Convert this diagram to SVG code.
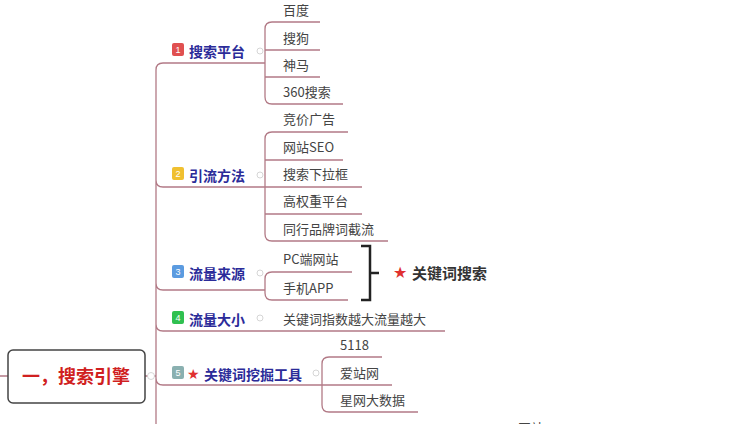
<svg xmlns="http://www.w3.org/2000/svg" width="754" height="424" viewBox="0 0 754 424">
<style>
.ln{stroke:#b27a86;stroke-width:1.3;fill:none}
.lf{font-family:"Noto Sans CJK SC",sans-serif;font-size:13px;fill:#444}
.br{font-family:"Noto Sans CJK SC",sans-serif;font-size:14px;font-weight:bold;fill:#2b2b99}
.bd{font-family:"Liberation Sans",sans-serif;font-size:9px;fill:#fff;text-anchor:middle}
.cc{fill:#fff;stroke:#ccc;stroke-width:0.8}
.st{fill:#e03030}
</style>
<rect width="754" height="424" fill="#fff"/>
<g id="connectors">
<path class="ln" d="M0 376H8M145 376H156M156 424V70Q156 63 163 63H265M156 180Q156 187 163 187H265M156 283Q156 290 163 290H265M156 324Q156 331 163 331H445M156 378Q156 385 163 385H322"/>
<path class="ln" d="M320 22H272Q265 22 265 29V97Q265 104 272 104H343M265 50H320M265 77H320"/>
<path class="ln" d="M348 132H272Q265 132 265 139V234Q265 241 272 241H388M265 160H343M265 187H362M265 214H362"/>
<path class="ln" d="M352 272H272Q265 272 265 279V293Q265 300 272 300H348"/>
<path class="ln" d="M382 357H329Q322 357 322 364V405Q322 412 329 412H418M322 385H392"/>
<path d="M361 246H370V300H361M370 273H379" stroke="#222" stroke-width="2.5" fill="none"/>
</g>
<g id="root">
<rect x="8" y="350" width="137" height="53" rx="5" fill="#fff" stroke="#444" stroke-width="1.5"/>
<text x="76" y="383" text-anchor="middle" font-family="Noto Sans CJK SC,sans-serif" font-size="18" font-weight="bold" fill="#d02020">一，搜索引擎</text>
<circle class="cc" cx="151" cy="376" r="3.5"/>
</g>
<g id="b1"><rect x="172" y="43" width="12" height="13" rx="2" fill="#e05050"/><text class="bd" x="178" y="53">1</text><text class="br" x="189" y="57">搜索平台</text><circle class="cc" cx="260" cy="51" r="3"/></g>
<g id="b2"><rect x="172" y="167" width="12" height="13" rx="2" fill="#f0c030"/><text class="bd" x="178" y="177">2</text><text class="br" x="189" y="181">引流方法</text><circle class="cc" cx="260" cy="175" r="3"/></g>
<g id="b3"><rect x="172" y="265" width="12" height="13" rx="2" fill="#5b9be0"/><text class="bd" x="178" y="275">3</text><text class="br" x="189" y="279">流量来源</text><circle class="cc" cx="260" cy="273" r="3"/></g>
<g id="b4"><rect x="172" y="311" width="12" height="13" rx="2" fill="#30c050"/><text class="bd" x="178" y="321">4</text><text class="br" x="189" y="325">流量大小</text><circle class="cc" cx="260" cy="318" r="3"/></g>
<g id="b5"><rect x="172" y="366" width="12" height="13" rx="2" fill="#8ab0b0"/><text class="bd" x="178" y="376">5</text><text class="st" x="187" y="379" font-family="DejaVu Sans,sans-serif" font-size="14">★</text><text class="br" x="204" y="380">关键词挖掘工具</text><circle class="cc" cx="316" cy="373" r="3"/></g>
<g id="leaves">
<text class="lf" x="283" y="15">百度</text>
<text class="lf" x="283" y="43">搜狗</text>
<text class="lf" x="283" y="70">神马</text>
<text class="lf" x="283" y="97">360搜索</text>
<text class="lf" x="283" y="124">竞价广告</text>
<text class="lf" x="283" y="152">网站SEO</text>
<text class="lf" x="283" y="179">搜索下拉框</text>
<text class="lf" x="283" y="206">高权重平台</text>
<text class="lf" x="283" y="234">同行品牌词截流</text>
<text class="lf" x="283" y="264">PC端网站</text>
<text class="lf" x="283" y="293">手机APP</text>
<text class="lf" x="283" y="324">关键词指数越大流量越大</text>
<text class="lf" x="340" y="350">5118</text>
<text class="lf" x="340" y="378">爱站网</text>
<text class="lf" x="340" y="405">星网大数据</text>
<text class="lf" x="518" y="433">网站</text>
</g>
<g id="note"><text class="st" x="393" y="278" font-family="DejaVu Sans,sans-serif" font-size="16">★</text><text x="412" y="279" font-family="Noto Sans CJK SC,sans-serif" font-size="15" font-weight="bold" fill="#333">关键词搜索</text></g>
</svg>
